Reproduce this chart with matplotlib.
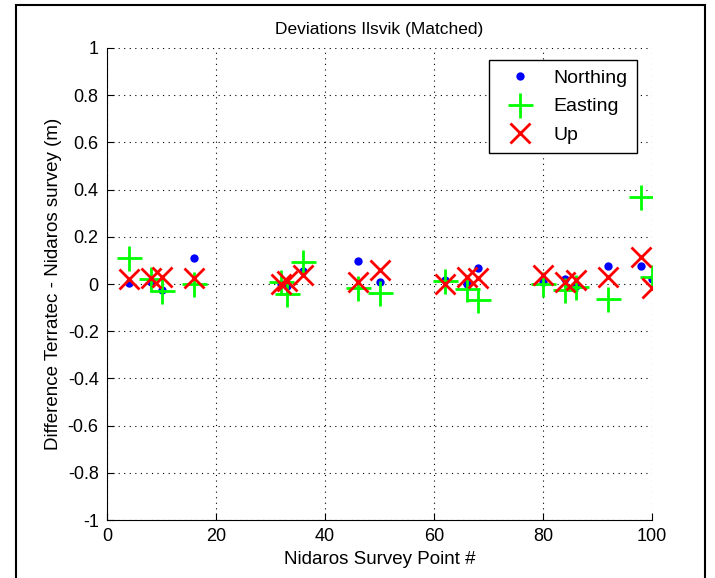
import numpy as np
import matplotlib
matplotlib.use('Agg')
import matplotlib.pyplot as plt
from matplotlib.patches import Rectangle

plt.rcParams['font.family'] = ['Liberation Sans', 'DejaVu Sans']
plt.rcParams['axes.unicode_minus'] = False

# survey point numbers and deviations (m)
points = [4, 8, 10, 16, 32, 33, 36, 46, 50, 62, 66, 68, 80, 84, 86, 92, 98, 100]
northing = [0.005, 0.01, -0.024, 0.11, 0.0, -0.008, 0.055, 0.097, 0.01, 0.015,
            0.0, 0.069, 0.01, 0.02, -0.01, 0.076, 0.076, 0.02]
easting = [0.11, 0.02, -0.028, 0.0, 0.01, -0.042, 0.093, -0.017, -0.04, 0.013,
           -0.02, -0.068, 0.0, -0.025, -0.012, -0.065, 0.367, 0.028]
up = [0.02, 0.025, 0.03, 0.025, 0.0, 0.013, 0.04, 0.007, 0.06, 0.0,
      0.03, 0.025, 0.038, 0.01, 0.017, 0.028, 0.113, -0.018]
yticklabels = ['-1', '-0.8', '-0.6', '-0.4', '-0.2', '0', '0.2', '0.4', '0.6', '0.8', '1']

fig = plt.figure(figsize=(7.15, 5.78), dpi=100)
ax = fig.add_axes([0.1497, 0.1003, 0.7623, 0.8167])

ax.plot(points, northing, 'o', color='#0000ff', markersize=6, markeredgewidth=0,
        linestyle='none', label='Northing')
ax.plot(points, easting, '+', color='#00ff00', markersize=18, markeredgewidth=2,
        linestyle='none', label='Easting')
ax.plot(points, up, 'x', color='#ff0000', markersize=14, markeredgewidth=2,
        linestyle='none', label='Up')

ax.set_xlim(0, 100)
ax.set_ylim(-1, 1)
ax.set_xticks(np.arange(0, 101, 20))
ax.set_yticks(np.arange(-1, 1.01, 0.2))
ax.set_yticklabels(yticklabels)
ax.grid(True, color='black', linestyle=(0, (1, 4)), linewidth=0.8)
ax.tick_params(direction='in', length=5, labelsize=13, colors='black', pad=6)
ax.spines['top'].set_visible(False)
ax.spines['right'].set_visible(False)

ax.set_title('Deviations Ilsvik (Matched)', fontsize=12.5, pad=10)
ax.set_xlabel('Nidaros Survey Point #', fontsize=13.5, labelpad=4)
ax.set_ylabel('Difference Terratec - Nidaros survey (m)', fontsize=13.5, labelpad=4)

leg = ax.legend(loc='upper right', bbox_to_anchor=(0.973, 0.975), fontsize=14,
                frameon=True, fancybox=False, edgecolor='black', framealpha=1,
                handlelength=2.2, handletextpad=0.6, borderpad=0.5,
                labelspacing=0.55, borderaxespad=0)
leg.get_frame().set_linewidth(1.0)

# outer frame of the screenshot
fig.patches.append(Rectangle((16 / 715, -0.02), (705 - 16) / 715, 1 - 5 / 578 + 0.02,
                             transform=fig.transFigure, fill=False,
                             edgecolor='black', linewidth=1.5))

fig.savefig('out.png', dpi=100)
